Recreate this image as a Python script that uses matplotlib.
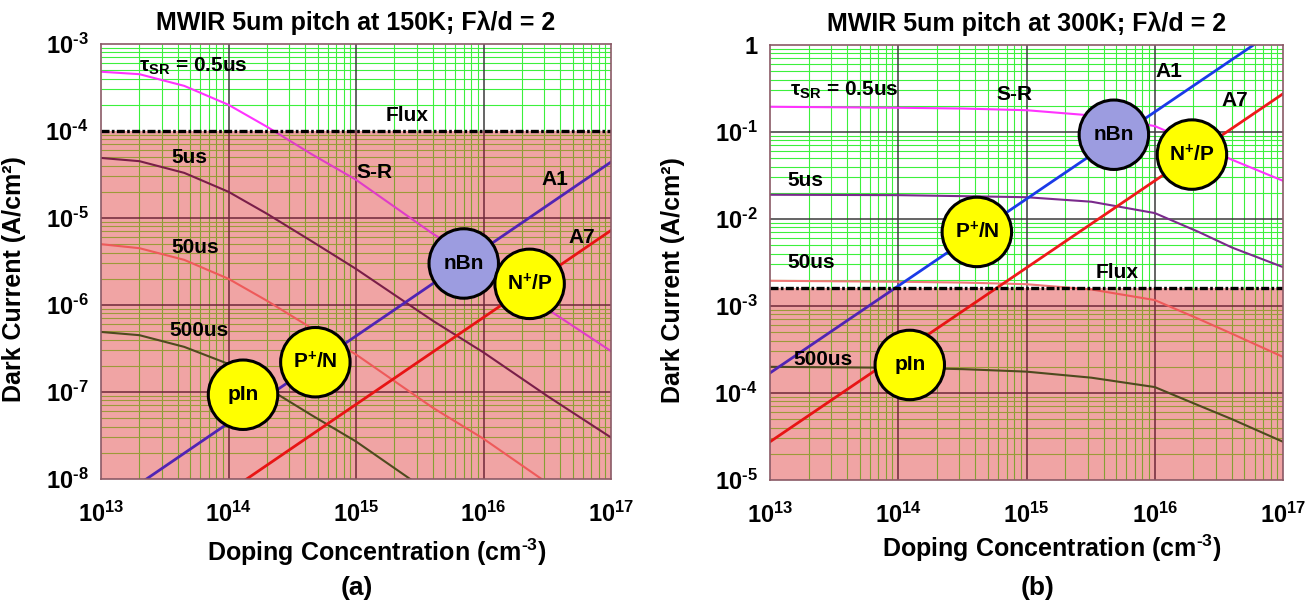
import matplotlib
matplotlib.use("Agg")
import matplotlib.pyplot as plt
from matplotlib.patches import Rectangle

plt.rcParams['font.family'] = ['Liberation Sans', 'DejaVu Sans']
plt.rcParams['font.weight'] = 'bold'
plt.rcParams['mathtext.fontset'] = 'custom'
plt.rcParams['mathtext.rm'] = 'Liberation Sans:bold'
plt.rcParams['mathtext.it'] = 'Liberation Sans:bold:italic'
plt.rcParams['mathtext.bf'] = 'Liberation Sans:bold'

# === Data ===
# (a) 150 K
doping_a = [1e13, 2e13, 4.5e13, 1e14, 2e14, 4.5e14, 1e15, 4e15, 1e16, 3.2e16, 1e17]
sr_05us_a = [4.8e-4, 4.5e-4, 3.3e-4, 2.0e-4, 1.12e-4, 5.4e-5, 2.75e-5, 6.6e-6, 2.9e-6, 8.9e-7, 2.95e-7]
sr_5us_a = [4.9e-5, 4.5e-5, 3.3e-5, 2.0e-5, 1.12e-5, 5.4e-6, 2.6e-6, 6.6e-7, 2.85e-7, 8.9e-8, 3.0e-8]
sr_50us_a = [5.0e-6, 4.5e-6, 3.3e-6, 2.0e-6, 1.12e-6, 5.4e-7, 2.7e-7, 6.6e-8, 2.9e-8, 8.9e-9, 2.9e-9]
sr_500us_a = [4.9e-7, 4.5e-7, 3.3e-7, 2.1e-7, 1.12e-7, 5.4e-8, 2.7e-8, 6.6e-9, 2.9e-9, 8.9e-10, 2.9e-10]
line_doping = [1e13, 1e17]
a1_a = [4.4e-9, 4.4e-5]
a7_a = [7.2e-10, 7.2e-6]
flux_a = 1e-4

# (b) 300 K
doping_b = [1e13, 1e14, 3.2e14, 1e15, 3.2e15, 1e16, 2.2e16, 4e16, 1e17]
sr_05us_b = [0.195, 0.19, 0.186, 0.178, 0.155, 0.117, 0.071, 0.048, 0.0275]
sr_5us_b = [0.019, 0.0188, 0.0183, 0.0178, 0.0158, 0.0117, 0.0071, 0.0047, 0.0028]
sr_50us_b = [1.95e-3, 1.9e-3, 1.86e-3, 1.78e-3, 1.55e-3, 1.17e-3, 7.1e-4, 4.8e-4, 2.6e-4]
sr_500us_b = [2.0e-4, 1.95e-4, 1.88e-4, 1.76e-4, 1.5e-4, 1.17e-4, 7.2e-5, 5.0e-5, 2.75e-5]
a1_b = [1.7e-4, 1.7]
a7_b = [2.75e-5, 0.275]
flux_b = 1.6e-3

# device bubbles
device_labels = ['nBn', r'N$^{+}$/P', r'P$^{+}$/N', 'pIn']
device_colors = ['#9c9ce0', '#ffff00', '#ffff00', '#ffff00']
device_doping_a = [7.0e15, 2.3e16, 4.8e14, 1.3e14]
device_current_a = [3.0e-6, 1.75e-6, 2.2e-7, 9.3e-8]
device_doping_b = [4.8e15, 1.95e16, 4.1e14, 1.23e14]
device_current_b = [0.093, 0.055, 7.1e-3, 2.1e-4]

x_ticks = [1e13, 1e14, 1e15, 1e16, 1e17]
x_tick_labels = [r'$10^{13}$', r'$10^{14}$', r'$10^{15}$', r'$10^{16}$', r'$10^{17}$']
y_ticks_a = [1e-8, 1e-7, 1e-6, 1e-5, 1e-4, 1e-3]
y_tick_labels_a = [r'$10^{\text{-8}}$', r'$10^{\text{-7}}$', r'$10^{\text{-6}}$',
                   r'$10^{\text{-5}}$', r'$10^{\text{-4}}$', r'$10^{\text{-3}}$']
y_ticks_b = [1e-5, 1e-4, 1e-3, 1e-2, 1e-1, 1]
y_tick_labels_b = [r'$10^{\text{-5}}$', r'$10^{\text{-4}}$', r'$10^{\text{-3}}$',
                   r'$10^{\text{-2}}$', r'$10^{\text{-1}}$', '1']

# text annotations (label, doping, current)
notes_a = [(r'$\mathrm{\tau_{SR}}$ = 0.5us', 5.3e13, 5.5e-4), ('Flux', 2.5e15, 1.5e-4),
           ('5us', 4.9e13, 5.0e-5), ('S-R', 1.4e15, 3.3e-5), ('A1', 3.6e16, 2.8e-5),
           ('A7', 5.9e16, 5.9e-6), ('50us', 5.5e13, 4.6e-6), ('500us', 5.9e13, 5.1e-7)]
notes_b = [(r'$\mathrm{\tau_{SR}}$ = 0.5us', 3.8e13, 0.30), ('S-R', 8e14, 0.27),
           ('A1', 1.3e16, 0.49), ('A7', 4.2e16, 0.23), ('5us', 1.9e13, 0.028),
           ('50us', 2.1e13, 3.2e-3), ('Flux', 5.1e15, 2.4e-3), ('500us', 2.6e13, 2.4e-4)]

PINK = '#f0a4a4'


def draw_grid(ax, ylim, flux, y_decades):
    xmin, xmax = 1e13, 1e17
    ymin, ymax = ylim
    minor_x = [k * 10.0 ** d for d in range(13, 17) for k in range(2, 10)]
    major_x = [10.0 ** d for d in range(14, 17)]
    minor_y = [k * 10.0 ** d for d in y_decades for k in range(2, 10)]
    major_y = [10.0 ** d for d in y_decades[1:]]
    ax.axhspan(ymin, flux, color=PINK, lw=0, zorder=0)
    ax.vlines(minor_x, flux, ymax, colors='#3cf03c', lw=0.8, zorder=1)
    ax.vlines(minor_x, ymin, flux, colors='#84a034', lw=0.8, zorder=1)
    ax.hlines([v for v in minor_y if v > flux], xmin, xmax, colors='#3cf03c', lw=0.8, zorder=1)
    ax.hlines([v for v in minor_y if v < flux], xmin, xmax, colors='#9c9a3a', lw=0.8, zorder=1)
    ax.vlines(major_x, flux, ymax, colors='#3a3a3a', lw=1.1, zorder=1.5)
    ax.vlines(major_x, ymin, flux, colors='#6e2838', lw=1.1, zorder=1.5)
    ax.hlines([v for v in major_y if v > flux], xmin, xmax, colors='#3a3a3a', lw=1.1, zorder=1.5)
    ax.hlines([v for v in major_y if v < flux], xmin, xmax, colors='#6e2838', lw=1.1, zorder=1.5)


def split_plot(ax, x, y, c_top, c_bot, flux, ylim, lw=1.5):
    # colour above and below the flux level differs (pink overlay in the original)
    for color, lo, hi in ((c_top, flux, ylim[1]), (c_bot, ylim[0], flux)):
        line, = ax.plot(x, y, color=color, lw=lw, zorder=3)
        line.set_clip_path(Rectangle((1e13, lo), 1e17 - 1e13, hi - lo, transform=ax.transData))


def panel(ax, title, ylim, y_decades, flux, curves, devices_x, devices_y, yticks, yticklabels, notes):
    ax.set_xscale('log')
    ax.set_yscale('log')
    ax.set_xlim(1e13, 1e17)
    ax.set_ylim(*ylim)
    draw_grid(ax, ylim, flux, y_decades)
    for x, y, c_top, c_bot, lw in curves:
        split_plot(ax, x, y, c_top, c_bot, flux, ylim, lw)
    ax.axhline(flux, color='black', lw=2.4, ls=(0, (2.4, 0.7, 0.8, 0.7)), zorder=4)
    ax.scatter(devices_x, devices_y, s=2500, c=device_colors, edgecolors='black',
               linewidths=2.2, zorder=5)
    for lab, x, y in zip(device_labels, devices_x, devices_y):
        ax.text(x, y, lab, ha='center', va='center', fontsize=15, fontweight='bold', zorder=6)
    for lab, x, y in notes:
        ax.text(x, y, lab, ha='center', va='center', fontsize=15, fontweight='bold', zorder=6)
    ax.set_xticks(x_ticks)
    ax.set_xticklabels(x_tick_labels, fontsize=17)
    ax.set_yticks(yticks)
    ax.set_yticklabels(yticklabels, fontsize=17)
    ax.minorticks_off()
    ax.tick_params(length=0, pad=9)
    ax.tick_params(axis='x', pad=16)
    for sp in ax.spines.values():
        sp.set_color('#8a5a66')
        sp.set_linewidth(1.2)
        sp.set_zorder(7)
    ax.set_title(title, fontsize=18, fontweight='bold', pad=10)
    ax.set_ylabel('Dark Current (A/cm²)', fontsize=18, fontweight='bold')
    ax.set_xlabel(r'Doping Concentration (cm$^{\text{-3}}$)', fontsize=18, fontweight='bold',
                  va='center')


fig = plt.figure(figsize=(13.14, 6.09), dpi=100)
ax1 = fig.add_axes([101 / 1314, 1 - 479 / 609, 510 / 1314, 435 / 609])
ax2 = fig.add_axes([770 / 1314, 1 - 480 / 609, 513 / 1314, 435 / 609])

curves_a = [
    (doping_a, sr_05us_a, '#ff33ff', '#e03cc8', 1.5),
    (doping_a, sr_5us_a, '#7a2a8c', '#7a1e48', 1.5),
    (doping_a, sr_50us_a, '#f07878', '#ee5a5a', 1.5),
    (doping_a, sr_500us_a, '#4e4a1e', '#4e4a1e', 1.5),
    (line_doping, a1_a, '#1a3ae8', '#5024b4', 2.0),
    (line_doping, a7_a, '#ee1a1a', '#e81414', 2.0),
]
curves_b = [
    (doping_b, sr_05us_b, '#ff33ff', '#e03cc8', 1.5),
    (doping_b, sr_5us_b, '#7a2a8c', '#7a1e48', 1.5),
    (doping_b, sr_50us_b, '#f07878', '#ee5a5a', 1.5),
    (doping_b, sr_500us_b, '#4e4a1e', '#4e4a1e', 1.5),
    (line_doping, a1_b, '#1a3ae8', '#5024b4', 2.0),
    (line_doping, a7_b, '#ee1a1a', '#e81414', 2.0),
]

panel(ax1, 'MWIR 5um pitch at 150K; Fλ/d = 2', (1e-8, 1e-3), list(range(-8, -3)), flux_a, curves_a,
      device_doping_a, device_current_a, y_ticks_a, y_tick_labels_a, notes_a)
panel(ax2, 'MWIR 5um pitch at 300K; Fλ/d = 2', (1e-5, 1), list(range(-5, 0)), flux_b, curves_b,
      device_doping_b, device_current_b, y_ticks_b, y_tick_labels_b, notes_b)

ax1.yaxis.set_label_coords(-0.147, 0.46)
ax2.yaxis.set_label_coords(-0.165, 0.46)
ax1.xaxis.set_label_coords(0.54, -0.168)
ax2.xaxis.set_label_coords(0.55, -0.156)

fig.text(357 / 1314, 1 - 588 / 609, '(a)', ha='center', va='center', fontsize=19, fontweight='bold')
fig.text(1038 / 1314, 1 - 588 / 609, '(b)', ha='center', va='center', fontsize=19, fontweight='bold')

fig.savefig('out.png', dpi=100)
plt.close(fig)
